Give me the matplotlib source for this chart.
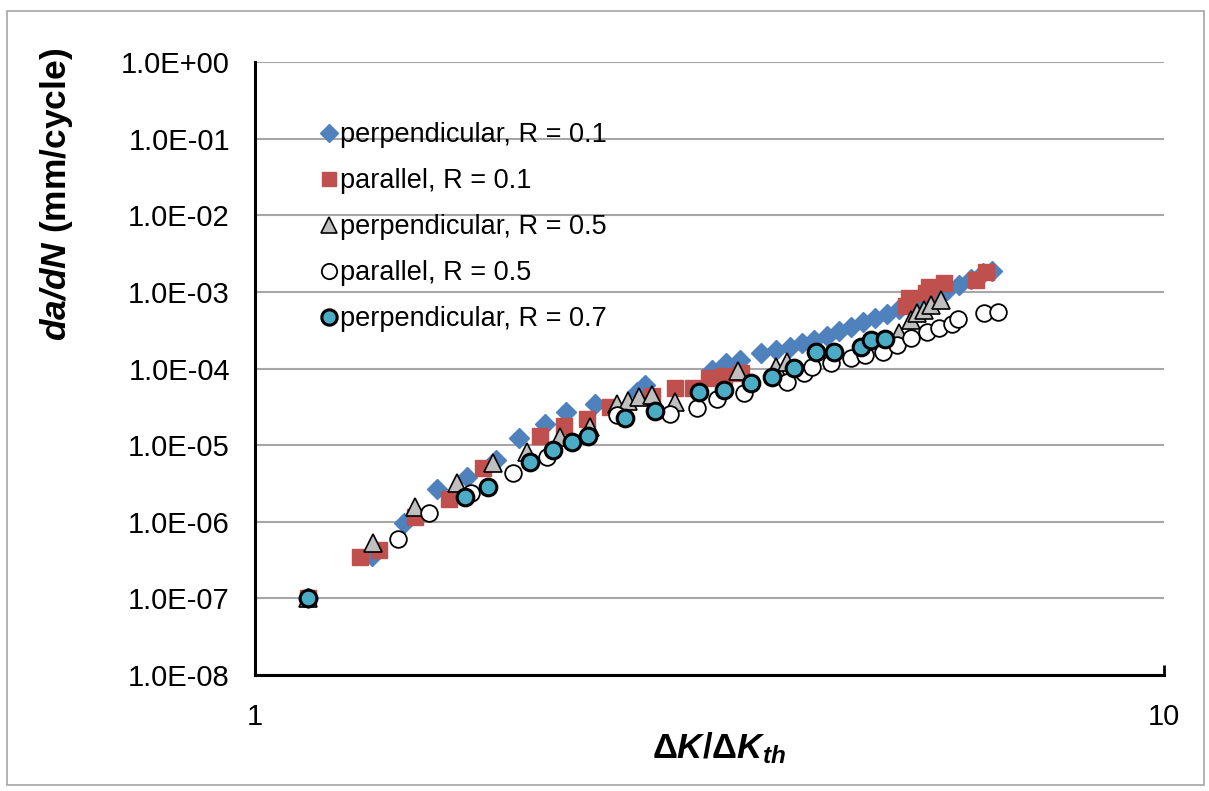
import matplotlib
matplotlib.use("Agg")
import matplotlib.pyplot as plt
from matplotlib.patches import Rectangle

# ================= DADOS =================
perp01_x = [1.144, 1.345, 1.458, 1.585, 1.710, 1.840, 1.950, 2.083, 2.197, 2.364,
            2.629, 2.683, 3.186, 3.301, 3.412, 3.607, 3.738, 3.873, 4.000, 4.125,
            4.263, 4.394, 4.529, 4.670, 4.813, 4.962, 5.115, 5.272, 5.434, 5.602,
            5.774, 5.953, 6.137, 6.324, 6.471]
perp01_y = [1.0e-7, 3.6e-7, 9.6e-7, 2.7e-6, 3.85e-6, 6.4e-6, 1.24e-5, 1.89e-5, 2.71e-5, 3.45e-5,
            4.95e-5, 6.1e-5, 9.6e-5, 1.18e-4, 1.29e-4, 1.60e-4, 1.75e-4, 1.92e-4, 2.16e-4, 2.36e-4,
            2.67e-4, 3.10e-4, 3.49e-4, 4.06e-4, 4.58e-4, 5.16e-4, 6.00e-4, 6.76e-4, 7.87e-4, 9.14e-4,
            1.06e-3, 1.23e-3, 1.48e-3, 1.77e-3, 1.88e-3]

par01_x = [1.144, 1.304, 1.369, 1.499, 1.634, 1.781, 2.057, 2.186, 2.316, 2.455,
           2.737, 2.894, 3.029, 3.162, 3.284, 3.429, 5.206, 5.245, 5.476, 5.518,
           5.730, 6.213, 6.372]
par01_y = [1.0e-7, 3.47e-7, 4.29e-7, 1.16e-6, 1.99e-6, 5.04e-6, 1.32e-5, 1.78e-5, 2.20e-5, 3.16e-5,
           4.38e-5, 5.58e-5, 5.58e-5, 7.53e-5, 8.0e-5, 8.77e-5, 6.5e-4, 8.36e-4, 9.71e-4, 1.16e-3,
           1.31e-3, 1.44e-3, 1.82e-3]

perp05_x = [1.144, 1.348, 1.499, 1.667, 1.826, 1.990, 2.164, 2.334, 2.499, 2.570,
            2.642, 2.737, 2.894, 3.402, 3.747, 3.853, 5.115, 5.272, 5.353, 5.448,
            5.546, 5.686]
perp05_y = [1.0e-7, 5.28e-7, 1.56e-6, 3.21e-6, 5.86e-6, 8.14e-6, 1.28e-5, 1.73e-5, 3.45e-5, 3.77e-5,
            4.26e-5, 4.52e-5, 3.66e-5, 9.31e-5, 1.05e-4, 1.22e-4, 2.92e-4, 4.31e-4, 5.32e-4, 5.82e-4,
            6.76e-4, 7.87e-4]

par05_x = [1.144, 1.436, 1.553, 1.727, 1.921, 2.094, 2.499, 2.858, 3.060, 3.226,
           3.455, 3.853, 4.022, 4.104, 4.306, 4.529, 4.694, 4.911, 5.089, 5.272,
           5.490, 5.658, 5.848, 5.937, 6.340, 6.571]
par05_y = [1.0e-7, 5.95e-7, 1.30e-6, 2.38e-6, 4.34e-6, 7.02e-6, 2.48e-5, 2.55e-5, 3.06e-5, 4.01e-5,
           4.80e-5, 6.68e-5, 8.77e-5, 1.05e-4, 1.18e-4, 1.37e-4, 1.51e-4, 1.65e-4, 2.03e-4, 2.51e-4,
           3.01e-4, 3.39e-4, 3.82e-4, 4.45e-4, 5.32e-4, 5.48e-4]

perp07_x = [1.144, 1.701, 1.803, 2.005, 2.126, 2.230, 2.327, 2.550, 2.752, 3.076,
            3.284, 3.516, 3.709, 3.922, 4.146, 4.339, 4.646, 4.764, 4.937]
perp07_y = [1.0e-7, 2.11e-6, 2.84e-6, 6.04e-6, 8.65e-6, 1.10e-5, 1.32e-5, 2.26e-5, 2.79e-5, 4.95e-5,
            5.26e-5, 6.49e-5, 7.76e-5, 1.02e-4, 1.65e-4, 1.65e-4, 1.92e-4, 2.36e-4, 2.44e-4]

labels = ["perpendicular, R = 0.1", "parallel, R = 0.1", "perpendicular, R = 0.5",
          "parallel, R = 0.5", "perpendicular, R = 0.7"]

y_ticks = [1e-8, 1e-7, 1e-6, 1e-5, 1e-4, 1e-3, 1e-2, 1e-1, 1e0]
y_ticklabels = ["1.0E-08", "1.0E-07", "1.0E-06", "1.0E-05", "1.0E-04",
                "1.0E-03", "1.0E-02", "1.0E-01", "1.0E+00"]
x_ticks = [1, 10]
x_ticklabels = ["1", "10"]

# ================= ESTILO =================
plt.rcParams['font.family'] = ['Liberation Sans', 'DejaVu Sans']
plt.rcParams['mathtext.fontset'] = 'custom'
plt.rcParams['mathtext.rm'] = 'Liberation Sans'
plt.rcParams['mathtext.it'] = 'Liberation Sans:italic'
plt.rcParams['mathtext.bf'] = 'Liberation Sans:bold'
plt.rcParams['mathtext.bfit'] = 'Liberation Sans:italic:bold'

# ================= FIGURA =================
fig = plt.figure(figsize=(12.09, 7.91), dpi=100)
ax = fig.add_axes([255/1209, 1 - 675/791, (1164 - 255)/1209, (675 - 62)/791])

# borda externa
fig.patches.append(Rectangle((7/1209, 6/791), 1197/1209, 774/791, transform=fig.transFigure,
                             fill=False, edgecolor='#a6a6a6', linewidth=1.2))

ax.plot(perp01_x, perp01_y, 'D', ms=10.5, color='#4f81bd', mec='#4f81bd', label=labels[0], zorder=3)
ax.plot(par01_x, par01_y, 's', ms=11, color='#c0504d', mec='#c0504d', label=labels[1], zorder=3)
ax.plot(perp05_x, perp05_y, '^', ms=12.5, color='#bfbfbf', mec='black', mew=1.2, label=labels[2], zorder=3)
ax.plot(par05_x, par05_y, 'o', ms=12, color='white', mec='black', mew=1.3, label=labels[3], zorder=3)
ax.plot(perp07_x, perp07_y, 'o', ms=12, color='#4bacc6', mec='black', mew=2.2, label=labels[4], zorder=3)

ax.set_xscale('log')
ax.set_yscale('log')
ax.set_xlim(1, 10)
ax.set_ylim(1e-8, 1)

ax.set_yticks(y_ticks)
ax.set_yticklabels(y_ticklabels)
ax.set_xticks(x_ticks)
ax.set_xticklabels(x_ticklabels)
ax.minorticks_off()
ax.tick_params(axis='y', length=0, pad=18, labelsize=21)
ax.tick_params(axis='x', direction='in', length=7, width=2, pad=20, labelsize=21)

ax.grid(axis='y', color='#a6a6a6', linewidth=1.5)
ax.set_axisbelow(True)
for s in ['top', 'right']:
    ax.spines[s].set_visible(False)
for s in ['left', 'bottom']:
    ax.spines[s].set_linewidth(2.2)

fig.text(57/1209, 1 - 194/791, r'$\mathbfit{da/dN}$ (mm/cycle)', rotation=90,
         ha='center', va='center', fontsize=25.5, fontweight='bold')
fig.text(719/1209, 1 - 758/791, r'$\mathbf{\Delta}\mathbfit{K}\mathbf{/\Delta}\mathbfit{K}_{\mathbfit{th}}$',
         ha='center', va='baseline', fontsize=25)

ax.legend(loc='upper left', bbox_to_anchor=(0.0745, 0.902), frameon=False, fontsize=19.5,
          handlelength=0.5, handletextpad=0.15, labelspacing=0.74, borderpad=0, borderaxespad=0,
          markerscale=0.92)

fig.savefig('out.png', dpi=100)
